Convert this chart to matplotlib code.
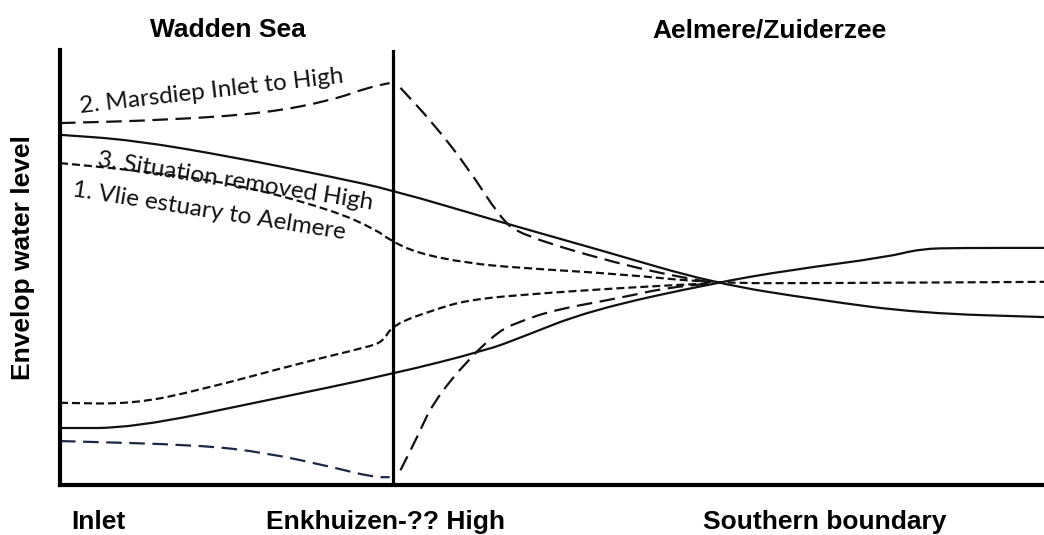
import matplotlib
matplotlib.use('Agg')
import matplotlib.pyplot as plt
from matplotlib.path import Path
from matplotlib.patches import PathPatch

plt.rcParams['font.family'] = ['Liberation Sans', 'DejaVu Sans']

# ---------------------------------------------------------------
# envelope curves (x: distance Inlet -> Southern boundary, 0..100;
#                  y: water level, 0..100, arbitrary units)
# ---------------------------------------------------------------
X_HIGH = 33.8   # Enkhuizen-?? High

# 3. situation removed High (solid)
sit3_hi_x = [0, 7.4, 17.6, 27.7, 33.8, 44.7, 54.9, 66.4, 77.2, 87.4, 100]
sit3_hi_y = [80.5, 79.3, 75.4, 70.8, 67.8, 60.5, 54.0, 46.4, 42.5, 39.5, 38.6]
sit3_lo_x = [0, 7.4, 21.1, 33.8, 43.4, 46.7, 53.9, 66.4, 74.1, 84.1, 87.4, 91.5, 100]
sit3_lo_y = [13.1, 13.1, 19.5, 25.5, 31.0, 33.8, 40.2, 46.4, 49.4, 52.4, 54.3, 54.5, 54.5]

# 2. Marsdiep inlet to High (long dash), split at the High
mars_hi_wx = [0, 10.9, 21.0, 27.7, 31.2, 33.5]
mars_hi_wy = [83.2, 83.9, 85.5, 88.5, 91.3, 92.4]
mars_hi_ex = [34.6, 37.9, 41.4, 44.7, 46.7, 57.9, 66.4]
mars_hi_ey = [91.3, 83.2, 73.1, 61.6, 57.5, 50.1, 46.4]
mars_lo_wx = [0, 14.2, 21.0, 27.7, 31.8, 33.5]
mars_lo_wy = [10.1, 9.2, 7.4, 4.1, 1.8, 1.8]
mars_lo_ex = [34.6, 36.3, 37.9, 41.4, 44.7, 46.7, 50.1, 56.9, 61.5, 66.4]
mars_lo_ey = [3.4, 11.0, 18.9, 28.7, 35.6, 37.5, 40.2, 43.0, 45.3, 46.4]

# 1. Vlie estuary to Aelmere (short dash)
vlie_hi_x = [0, 7.4, 17.6, 27.7, 32.2, 33.5, 36.3, 41.4, 46.7, 56.9, 66.4, 77.2, 100]
vlie_hi_y = [74.0, 72.4, 69.4, 63.2, 58.6, 56.3, 53.3, 51.0, 49.9, 48.5, 46.4, 46.4, 46.7]
vlie_lo_x = [0, 7.4, 14.2, 24.4, 31.2, 32.8, 33.8, 37.9, 41.4, 46.7, 56.9, 66.4]
vlie_lo_y = [18.9, 18.6, 21.8, 28.0, 31.7, 32.9, 36.8, 40.2, 42.5, 43.7, 45.3, 46.4]

REGIONS = ["Wadden Sea", "Aelmere/Zuiderzee"]
REGION_X = [17.1, 72.1]
PLACES = ["Inlet", "Enkhuizen-?? High", "Southern boundary"]
PLACE_X = [3.9, 33.1, 77.7]

LW = 1.6
SHORT = (3.6, 1.8)
LONG = (7.0, 3.4)


def smooth_curve(ax, xs, ys, **kw):
    # quadratic b-spline through the read points (drawn in data coords)
    pts = list(zip(xs, ys))
    verts = [pts[0]]
    codes = [Path.MOVETO]
    if len(pts) > 2:
        mid = ((pts[0][0] + pts[1][0]) / 2, (pts[0][1] + pts[1][1]) / 2)
        verts.append(mid)
        codes.append(Path.LINETO)
        for i in range(1, len(pts) - 1):
            nxt = ((pts[i][0] + pts[i + 1][0]) / 2, (pts[i][1] + pts[i + 1][1]) / 2)
            verts += [pts[i], nxt]
            codes += [Path.CURVE3, Path.CURVE3]
    verts.append(pts[-1])
    codes.append(Path.LINETO)
    ax.add_patch(PathPatch(Path(verts, codes), fill=False, **kw))


fig = plt.figure(figsize=(10.44, 5.35), dpi=100)
ax = fig.add_axes([60 / 1044, 50 / 535, 984 / 1044, 435 / 535])

smooth_curve(ax, sit3_hi_x, sit3_hi_y, edgecolor='#111111', lw=LW)
smooth_curve(ax, sit3_lo_x, sit3_lo_y, edgecolor='#111111', lw=LW)

for xs, ys, c in [(mars_hi_wx, mars_hi_wy, '#111111'), (mars_hi_ex, mars_hi_ey, '#111111'),
                  (mars_lo_wx, mars_lo_wy, '#1c2944'), (mars_lo_ex, mars_lo_ey, '#111111')]:
    smooth_curve(ax, xs, ys, edgecolor=c, lw=LW, linestyle=(0, LONG))

smooth_curve(ax, vlie_hi_x, vlie_hi_y, edgecolor='#111111', lw=LW, linestyle=(0, SHORT))
smooth_curve(ax, vlie_lo_x, vlie_lo_y, edgecolor='#111111', lw=LW, linestyle=(0, SHORT))

# the High
ax.axvline(X_HIGH, color='black', lw=2.3)

ax.set_xlim(0, 100)
ax.set_ylim(0, 100)
ax.spines['top'].set_visible(False)
ax.spines['right'].set_visible(False)
ax.spines['left'].set_linewidth(3)
ax.spines['bottom'].set_linewidth(3)
ax.set_xticks([])
ax.set_yticks([])

# curve labels
ann = dict(fontsize=17.5, family=['Lato', 'DejaVu Sans'], color='#111111',
           ha='center', va='center')
ax.text(15.4, 90.6, "2. Marsdiep Inlet to High", rotation=6.6, **ann)
ax.text(17.8, 69.8, "3. Situation removed High", rotation=-9, **ann)
ax.text(15.1, 63.0, "1. Vlie estuary to Aelmere", rotation=-9, **ann)

for name, x in zip(REGIONS, REGION_X):
    ax.text(x, 104.5, name, fontsize=19, fontweight='bold', ha='center', va='center',
            clip_on=False)
for name, x in zip(PLACES, PLACE_X):
    ax.text(x, -8.5, name, fontsize=19, fontweight='bold', ha='center', va='center',
            clip_on=False)

fig.text(23 / 1044, 1 - 258 / 535, "Envelop water level", fontsize=19, fontweight='bold',
         rotation=90, ha='center', va='center')

fig.savefig("out.png", dpi=100)
